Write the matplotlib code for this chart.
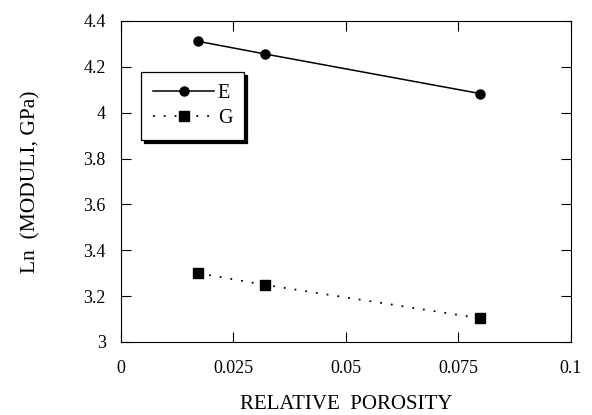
import matplotlib.pyplot as plt

# relative porosity and ln of the elastic moduli (GPa)
porosity = [0.0172, 0.032, 0.0799]
ln_E = [4.311, 4.256, 4.083]
ln_G = [3.300, 3.249, 3.103]

plt.rcParams['font.family'] = ['Liberation Serif', 'DejaVu Serif']

fig = plt.figure(figsize=(5.92, 4.15), dpi=100)
ax = fig.add_axes([0.2044, 0.176, 0.760, 0.7735])

ax.plot(porosity, ln_E, color='black', linewidth=1.1, marker='o', markersize=6.5, label='E')
ax.plot(porosity, ln_G, color='black', linewidth=1.3, linestyle=(0, (1, 5)),
        marker='s', markersize=7, label='G')

ax.set_xlim(0, 0.1)
ax.set_ylim(3, 4.4)
ax.set_xticks([0, 0.025, 0.05, 0.075, 0.1])
ax.set_xticklabels(['0', '0.025', '0.05', '0.075', '0.1'])
ax.set_yticks([3, 3.2, 3.4, 3.6, 3.8, 4, 4.2, 4.4])
ax.set_yticklabels(['3', '3.2', '3.4', '3.6', '3.8', '4', '4.2', '4.4'])
ax.tick_params(direction='in', length=7, width=0.8, top=True, right=True,
               labelsize=13, pad=13, colors='black')
ax.tick_params(axis='y', pad=11)

for s in ax.spines.values():
    s.set_linewidth(0.8)

ax.set_xlabel('RELATIVE  POROSITY', fontsize=15, labelpad=13)
ax.set_ylabel('Ln  (MODULI, GPa)', fontsize=15.5, labelpad=31)

leg = ax.legend(loc='upper left', bbox_to_anchor=(0.045, 0.841), borderaxespad=0,
                fancybox=False, edgecolor='black', framealpha=1, fontsize=14.5,
                handlelength=3.0, handletextpad=0.2, borderpad=0.6, labelspacing=0.3,
                shadow={'color': 'black', 'alpha': 1})
leg.get_frame().set_linewidth(0.9)

fig.savefig('out.png', dpi=100)
